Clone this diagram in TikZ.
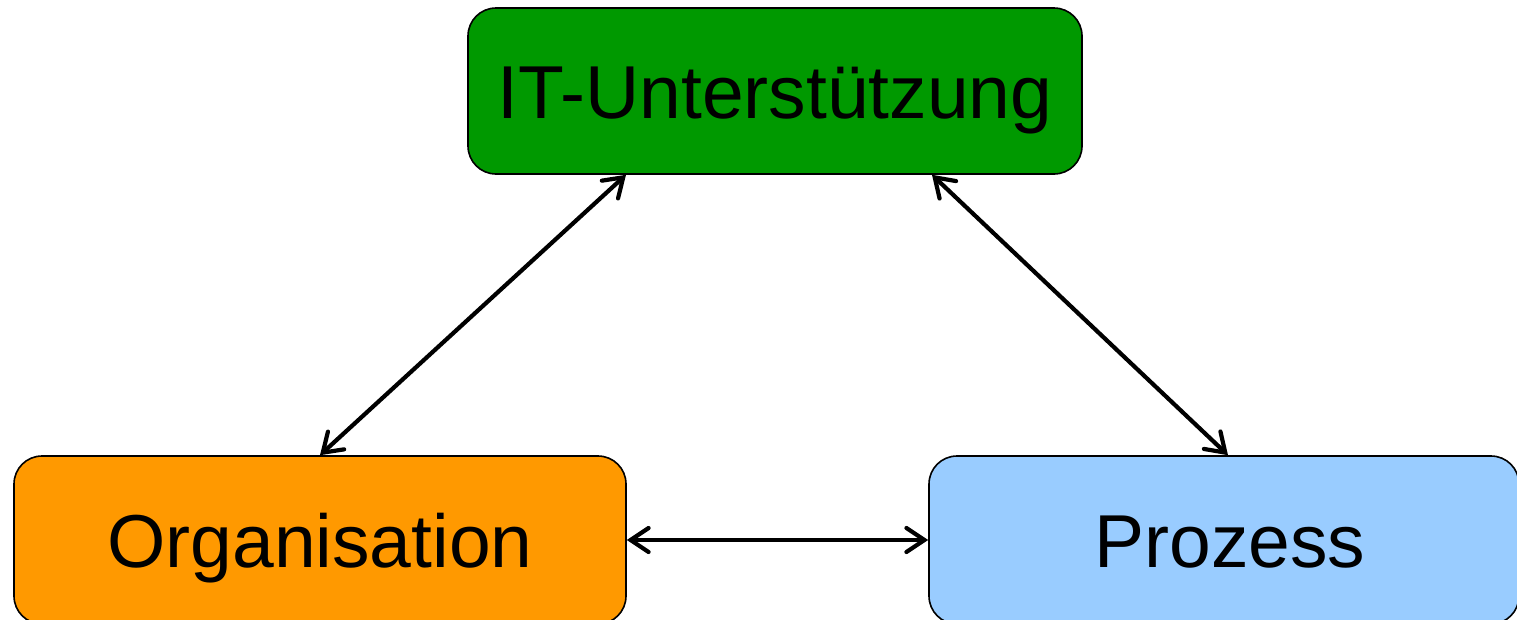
\documentclass[tikz,border=0pt]{standalone}
\usepackage{fontspec}
\setmainfont{Liberation Sans}
\usetikzlibrary{arrows.meta,calc}
\definecolor{itgreen}{HTML}{009900}
\definecolor{orgorange}{HTML}{FF9900}
\definecolor{prozblue}{HTML}{99CCFF}
\begin{document}
\begin{tikzpicture}[x=1pt,y=-1pt,
  box/.style={draw=black, line width=1.6pt, rounded corners=28pt, inner sep=0pt,
    minimum height=166pt, text height=54pt, text depth=0pt,
    font=\fontsize{75}{90}\selectfont},
  link/.style={line width=4.2pt, line cap=round,
    {Straight Barb[length=18pt,width=24pt,line cap=round]}-{Straight Barb[length=18pt,width=24pt,line cap=round]}}]
  \useasboundingbox (0,0) rectangle (1517,619);
  \clip (0,0) rectangle (1517,619);
  % the three areas
  \node[box, fill=itgreen, minimum width=614pt] (it) at (775,91) {IT-Unterstützung};
  \node[box, fill=orgorange, minimum width=612pt, minimum height=168pt] (org) at (320,540) {Organisation};
  \node[box, fill=prozblue, minimum width=590pt, minimum height=168pt] (proz) at (1224,540) {\hspace*{12pt}Prozess};
  % mutual dependencies
  \draw[link] ($(it.south)+(-149,0)$) -- (org.north);
  \draw[link] ($(it.south)+(157,0)$) -- ($(proz.north)+(4,0)$);
  \draw[link] (org.east) -- (proz.west);
\end{tikzpicture}
\end{document}
